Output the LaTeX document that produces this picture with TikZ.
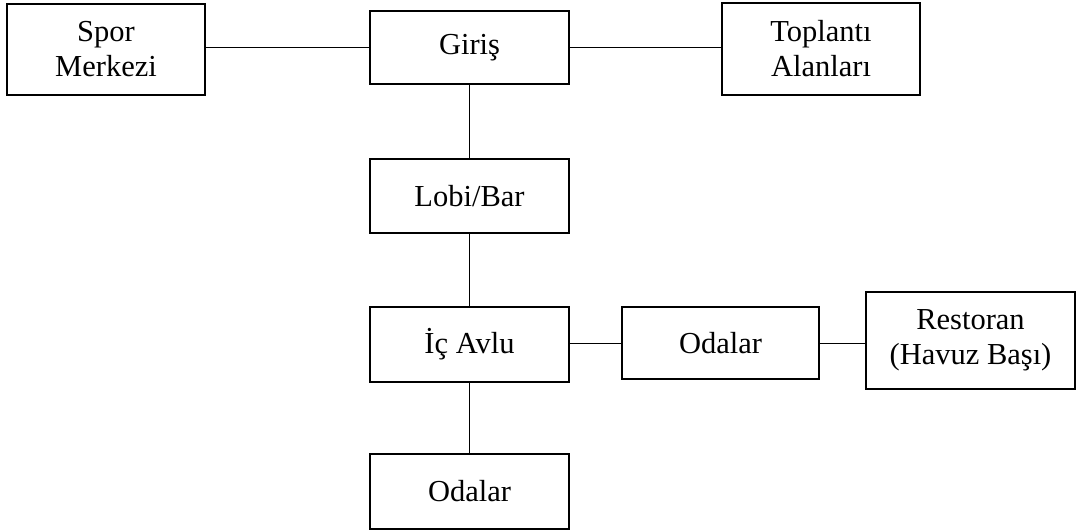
\documentclass[tikz,border=0pt]{standalone}
\usepackage{fontspec}
\setmainfont{Liberation Serif}
\begin{document}
\begin{tikzpicture}[x=1pt,y=-1pt,
  box/.style={draw=black,line width=1.8pt,align=center,inner sep=0pt,
    font=\fontsize{30.5}{35}\selectfont},
  link/.style={draw=black,line width=1pt}]
\useasboundingbox (0,0) rectangle (1078,531);
\node[box,minimum width=198pt,minimum height=91pt] (spor) at (106,49.5) {Spor\\Merkezi};
\node[box,minimum width=199pt,minimum height=73pt] (giris) at (469.5,47.5) {Giriş};
\node[box,minimum width=198pt,minimum height=92pt] (topl) at (821,49) {Toplantı\\Alanları};
\node[box,minimum width=199pt,minimum height=74pt] (lobi) at (469.5,196) {Lobi/Bar};
\node[box,minimum width=199pt,minimum height=75pt] (avlu) at (469.5,344.5) {İç Avlu};
\node[box,minimum width=197pt,minimum height=72pt] (oda1) at (720.5,343) {Odalar};
\node[box,minimum width=209pt,minimum height=97pt] (rest) at (970.5,340.5) {Restoran\\(Havuz Başı)};
\node[box,minimum width=199pt,minimum height=75pt] (oda2) at (469.5,491.5) {Odalar};
\draw[link] (giris.west) -- (giris.west -| spor.east);
\draw[link] (giris.east) -- (giris.east -| topl.west);
\draw[link] (giris.south) -- (lobi.north);
\draw[link] (lobi.south) -- (avlu.north);
\draw[link] (avlu.south) -- (oda2.north);
\draw[link] (oda1.west) -- (oda1.west -| avlu.east);
\draw[link] (oda1.east) -- (oda1.east -| rest.west);
\end{tikzpicture}
\end{document}
